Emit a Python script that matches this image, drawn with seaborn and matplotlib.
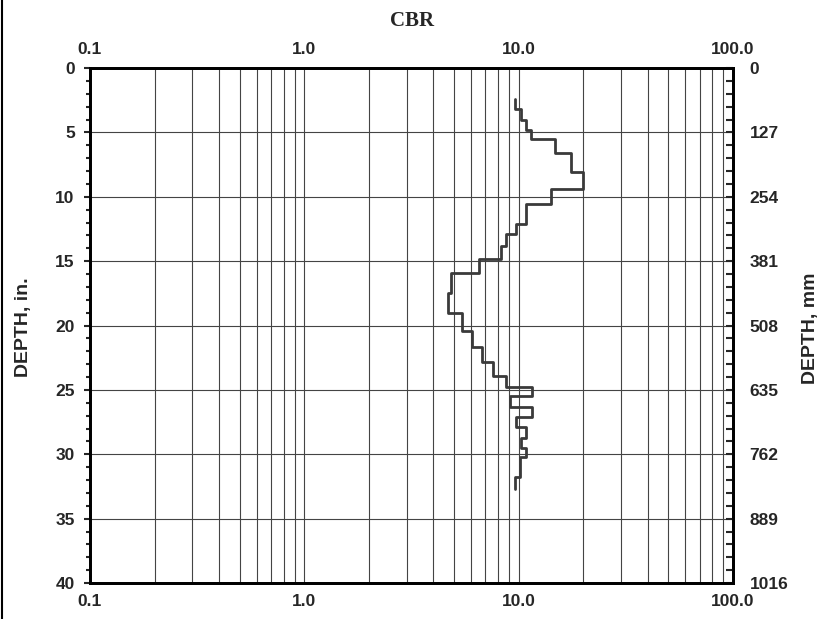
import numpy as np
import pandas as pd
import seaborn as sns
import matplotlib
matplotlib.use("Agg")
import matplotlib.pyplot as plt
from matplotlib.lines import Line2D

# ---- data ----
cbr_values = [9.65, 10.2, 10.85, 11.4, 14.8, 17.5, 19.9, 14.2, 10.8, 9.7,
              8.76, 8.3, 6.53, 4.82, 4.70, 5.46, 6.04, 6.77, 7.59, 8.75,
              11.5, 9.11, 11.5, 9.69, 10.8, 10.2, 10.8, 10.1, 9.6]
layer_top = [2.4, 3.2, 4.05, 4.8, 5.5, 6.6, 8.07, 9.4, 10.6, 12.1,
             12.9, 13.8, 14.8, 15.9, 17.5, 19.0, 20.4, 21.7, 22.85, 23.9,
             24.8, 25.5, 26.3, 27.1, 27.9, 28.7, 29.5, 30.2, 31.8]
layer_bottom = layer_top[1:] + [32.7]
x_tick_labels = ["0.1", "1.0", "10.0", "100.0"]
x_ticks = [0.1, 1.0, 10.0, 100.0]
depth_ticks_in = [0, 5, 10, 15, 20, 25, 30, 35, 40]

# build step path
xs, ys = [], []
for c, t, b in zip(cbr_values, layer_top, layer_bottom):
    xs += [c, c]
    ys += [t, b]
df = pd.DataFrame({"CBR": xs, "Depth": ys})

sns.set_style("white")
plt.rcParams['font.family'] = ['Liberation Sans', 'DejaVu Sans']

FS = 12.5
fig = plt.figure(figsize=(8.34, 6.19), dpi=100)
ax = fig.add_axes([90/834, 1-583/619, (733-90)/834, (583-68)/619])

sns.lineplot(data=df, x="CBR", y="Depth", sort=False, estimator=None,
             color="#3a3a3a", linewidth=2.0, ax=ax)

ax.set_xscale("log")
ax.set_xlim(0.1, 100)
ax.set_ylim(40, 0)

# grid
ax.set_xticks(x_ticks)
ax.set_xticklabels(x_tick_labels)
ax.xaxis.set_minor_locator(matplotlib.ticker.LogLocator(base=10, subs=np.arange(2, 10)))
ax.xaxis.set_minor_formatter(matplotlib.ticker.NullFormatter())
ax.grid(True, which="both", axis="x", color="#444444", linewidth=0.8)
ax.set_yticks(depth_ticks_in)
ax.yaxis.set_minor_locator(matplotlib.ticker.MultipleLocator(1))
ax.grid(True, which="major", axis="y", color="#444444", linewidth=0.8)
ax.set_axisbelow(True)

ax.tick_params(axis="x", which="both", length=0, top=False, bottom=False,
               labeltop=True, labelbottom=True, labelsize=FS, pad=8)
ax.tick_params(axis="y", which="major", direction="out", length=4, width=1.5,
               labelsize=FS, pad=7)
ax.tick_params(axis="y", which="minor", direction="out", length=3, width=1.5)
for lbl in ax.get_yticklabels():
    lbl.set_fontweight("bold")
for t in ax.xaxis.get_major_ticks():
    t.label1.set_fontweight("bold")
    t.label2.set_fontweight("bold")

for s in ax.spines.values():
    s.set_visible(True)
    s.set_linewidth(2.0)
    s.set_color("black")

ax.set_xlabel("")
ax.set_ylabel("")

# right axis in mm
ax2 = ax.twinx()
ax2.set_ylim(40, 0)
ax2.set_yticks(depth_ticks_in)
ax2.set_yticklabels([str(int(round(d * 25.4))) for d in depth_ticks_in])
ax2.yaxis.set_minor_locator(matplotlib.ticker.MultipleLocator(1))
ax2.tick_params(axis="y", which="major", direction="in", length=5, width=1.5,
                labelsize=FS, pad=12)
ax2.tick_params(axis="y", which="minor", direction="in", length=5, width=1.5)
for lbl in ax2.get_yticklabels():
    lbl.set_fontweight("bold")
for s in ax2.spines.values():
    s.set_linewidth(2.0)
    s.set_color("black")
ax2.grid(False)

fig.text(412/834, 1-21/619, "CBR", ha="center", va="center",
         fontsize=15, fontweight="bold", family=["Liberation Serif", "DejaVu Serif"])
fig.text(24/834, 1-327/619, "DEPTH, in.", ha="center", va="center",
         rotation=90, fontsize=14, fontweight="bold")
fig.text(810/834, 1-328/619, "DEPTH, mm", ha="center", va="center",
         rotation=90, fontsize=14, fontweight="bold")

# left frame line
fig.add_artist(Line2D([1.5/834, 1.5/834], [0, 1], transform=fig.transFigure,
                      color="black", linewidth=1.5))

fig.savefig("out.png", dpi=100)
